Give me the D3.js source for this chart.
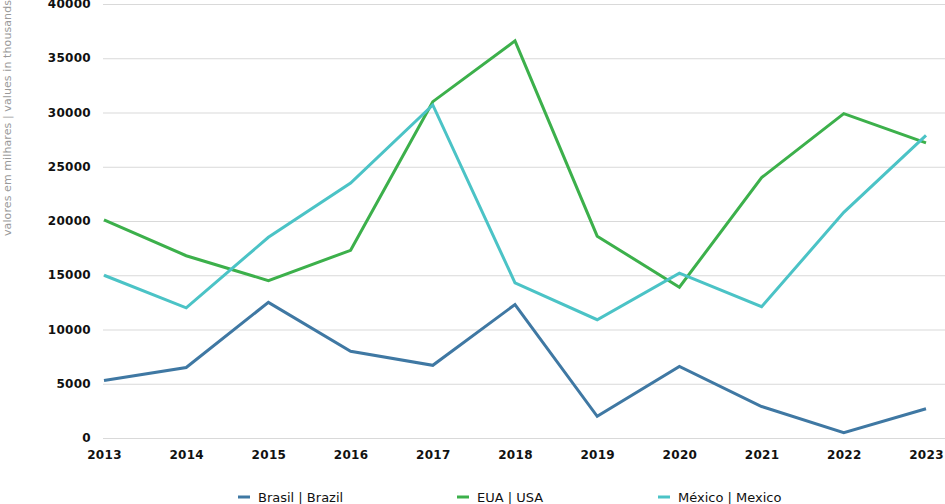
<!DOCTYPE html>
<html>
<head>
<meta charset="utf-8">
<style>
  body { margin: 0; background: white; overflow: hidden; }
  svg { display: block; }
  .tick text { font: bold 12px "DejaVu Sans", sans-serif; fill: #111; letter-spacing: 0.3px; }
  .grid line { stroke: #d9d9d9; stroke-width: 1; }
  .line { fill: none; stroke-width: 3; stroke-linejoin: miter; }
  .legend text { font: 13px "DejaVu Sans", sans-serif; fill: #111; }
  .ytitle { font: 11px "DejaVu Sans", sans-serif; fill: #999; }
</style>
<script src="https://d3js.org/d3.v7.min.js"></script>
</head>
<body>
<script>
const years = [2013, 2014, 2015, 2016, 2017, 2018, 2019, 2020, 2021, 2022, 2023];
const brazil = [5300, 6500, 12500, 8000, 6700, 12300, 2000, 6600, 2900, 500, 2700];
const usa = [20100, 16800, 14500, 17300, 31000, 36600, 18600, 13900, 24000, 29900, 27200];
const mexico = [15000, 12000, 18500, 23500, 30700, 14300, 10900, 15200, 12100, 20800, 27900];
const yTicks = [0, 5000, 10000, 15000, 20000, 25000, 30000, 35000, 40000];

const seriesNames = ["Brasil | Brazil", "EUA | USA", "México | Mexico"];
const seriesColors = ["#3f78a3", "#3cb04b", "#4bc3c6"];
const series = [brazil, usa, mexico];

const width = 945, height = 504;
const svg = d3.select("body").append("svg")
    .attr("width", width)
    .attr("height", height);

const x = d3.scaleLinear().domain([2013, 2023]).range([104, 926]);
const y = d3.scaleLinear().domain([0, 40000]).range([438, 4]);

// gridlines
svg.append("g")
    .attr("class", "grid")
    .selectAll("line")
    .data(yTicks)
    .join("line")
    .attr("x1", 103)
    .attr("x2", width)
    .attr("y1", d => y(d) + 0.5)
    .attr("y2", d => y(d) + 0.5);

// y axis labels
const yAxis = svg.append("g")
    .attr("transform", "translate(91,0)")
    .call(d3.axisLeft(y).tickValues(yTicks).tickSize(0).tickPadding(0).tickFormat(d3.format("d")));
yAxis.select(".domain").remove();
yAxis.selectAll(".tick text").attr("dy", "0.3em");

// x axis labels
const xAxis = svg.append("g")
    .attr("transform", "translate(0,450)")
    .call(d3.axisBottom(x).tickValues(years).tickSize(0).tickPadding(0).tickFormat(d3.format("d")));
xAxis.select(".domain").remove();

// y title
svg.append("text")
    .attr("class", "ytitle")
    .attr("transform", "translate(11,236) rotate(-90)")
    .attr("text-anchor", "start")
    .attr("textLength", 236)
    .text("valores em milhares | values in thousands");

// lines
const line = d3.line()
    .x((d, i) => x(years[i]))
    .y(d => y(d));

svg.append("g")
    .selectAll("path")
    .data(series)
    .join("path")
    .attr("class", "line")
    .attr("stroke", (d, i) => seriesColors[i])
    .attr("d", line);

// legend
const legendX = [238, 457, 658];
const legend = svg.append("g")
    .attr("class", "legend")
    .selectAll("g")
    .data(seriesNames)
    .join("g")
    .attr("transform", (d, i) => `translate(${legendX[i]},497)`);

legend.append("line")
    .attr("x1", 0).attr("x2", 12)
    .attr("y1", 0).attr("y2", 0)
    .attr("stroke", (d, i) => seriesColors[i])
    .attr("stroke-width", 3);

legend.append("text")
    .attr("x", 20)
    .attr("dy", "0.35em")
    .text(d => d);
</script>
</body>
</html>
